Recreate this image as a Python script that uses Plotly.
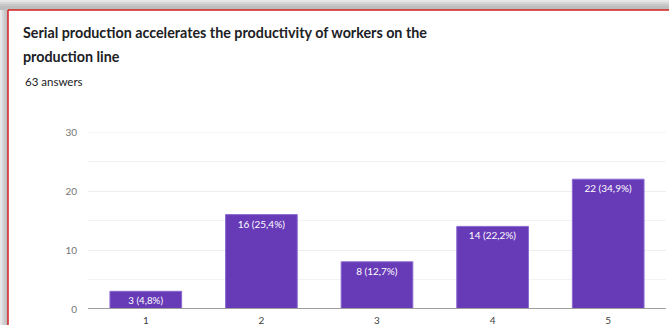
import plotly.graph_objects as go

categories = ["1", "2", "3", "4", "5"]
counts = [3, 16, 8, 14, 22]
labels = ["3 (4,8%)", "16 (25,4%)", "8 (12,7%)", "14 (22,2%)", "22 (34,9%)"]
y_ticks = [0, 10, 20, 30]

W, H = 669, 325
L, R, T, B = 88, 3, 132, 16
PW, PH = W - L - R, H - T - B
FONT = "Lato, sans-serif"


def px(x):
    return (x - L) / PW


def py(y):
    return (H - B - y) / PH


fig = go.Figure()
fig.add_trace(go.Bar(
    x=categories, y=counts, text=labels,
    textposition="inside", insidetextanchor="end",
    textfont=dict(color="white", size=10, family=FONT),
    marker=dict(color="#673ab7", line=dict(color="#8a6ad0", width=1)),
    cliponaxis=False,
))

shapes = []
# shadow outside the card
for i, c in enumerate(["#e6e6e6", "#d6d6d6", "#c8c8c8", "#bdbdbd"]):
    shapes.append(dict(type="rect", xref="paper", yref="paper",
                       x0=px(0), x1=px(W + 5), y0=py(2 * i), y1=py(10), fillcolor=c,
                       line=dict(width=0), layer="below"))
    shapes.append(dict(type="rect", xref="paper", yref="paper",
                       x0=px(2 * i), x1=px(8), y0=py(10), y1=py(H + 5), fillcolor=c,
                       line=dict(width=0), layer="below"))
# red card border
shapes.append(dict(type="line", xref="paper", yref="paper",
                   x0=px(8), x1=px(W + 5), y0=py(10), y1=py(10),
                   line=dict(color="#d42020", width=1.5)))
shapes.append(dict(type="line", xref="paper", yref="paper",
                   x0=px(8), x1=px(8), y0=py(10), y1=py(H + 5),
                   line=dict(color="#d42020", width=1.5)))
# top gridline
shapes.append(dict(type="line", xref="paper", yref="y",
                   x0=0, x1=1, y0=30, y1=30, line=dict(color="#eeeeee", width=1),
                   layer="below"))
# baseline
shapes.append(dict(type="line", xref="paper", yref="y",
                   x0=0, x1=1, y0=0, y1=0, line=dict(color="#9e9e9e", width=2)))

title_font = dict(size=14.3, color="#202124", family=FONT)
annotations = [
    dict(text="<b>Serial production accelerates the productivity of workers on the</b>",
         xref="paper", yref="paper", x=px(21), y=py(32), xanchor="left", yanchor="middle",
         showarrow=False, font=title_font),
    dict(text="<b>production line</b>",
         xref="paper", yref="paper", x=px(21), y=py(56), xanchor="left", yanchor="middle",
         showarrow=False, font=title_font),
    dict(text="63 answers", xref="paper", yref="paper", x=px(23), y=py(82),
         xanchor="left", yanchor="middle", showarrow=False,
         font=dict(size=11.5, color="#202124", family=FONT)),
]

fig.update_layout(
    width=W, height=H,
    margin=dict(l=L, r=R, t=T, b=B, pad=0),
    paper_bgcolor="white", plot_bgcolor="white",
    bargap=0.38, showlegend=False,
    shapes=shapes, annotations=annotations,
    font=dict(family=FONT, color="#757575", size=10),
)
fig.update_yaxes(range=[0, 30], tickvals=y_ticks, showgrid=True, gridcolor="#eeeeee",
                 minor=dict(dtick=5, showgrid=True, gridcolor="#f3f3f3"),
                 zeroline=False, showline=False, ticks="", ticklabelstandoff=10,
                 tickfont=dict(size=10, color="#757575"), fixedrange=True, automargin=False)
fig.update_xaxes(showgrid=False, showline=False, ticks="", ticklabelstandoff=4,
                 tickfont=dict(size=10, color="#424242"), fixedrange=True, automargin=False)

fig.write_html("out.html")
